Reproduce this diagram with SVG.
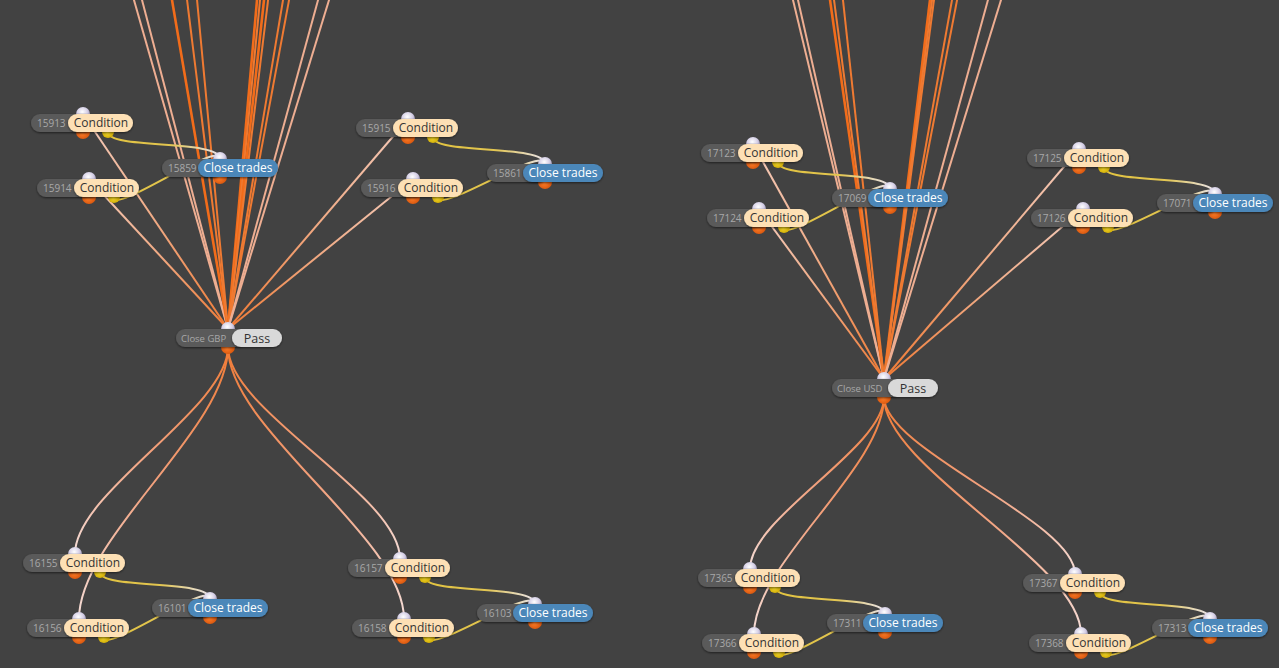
<svg xmlns="http://www.w3.org/2000/svg" width="1279" height="668" viewBox="0 0 1279 668">
<defs>
<style>
.idp{fill:#5a5a5a;filter:url(#sh)}
.cond{fill:#fde0b5;filter:url(#sh)}
.ct{fill:#4b87b9;filter:url(#sh)}
.pass{fill:#d9d9d9;filter:url(#sh)}
.tid{font-family:"Open Sans","Liberation Sans",sans-serif;font-size:10px;fill:#a8a8a8}
.tl{font-family:"Open Sans","Liberation Sans",sans-serif;font-size:12px;text-anchor:middle}
.tc{fill:#333333}
.tw{fill:#ffffff}
.pl{fill:url(#gLav)}
.po{fill:url(#gOr)}
.py{fill:url(#gYe)}
.lk{fill:none;stroke-width:2}
.ly{stroke:url(#gY)}
.lu{stroke:url(#gUp)}
.ld{stroke:url(#gDn)}
.op{stroke:#ef7a32}
.ob{stroke:#f26c1a;stroke-width:2.6}
.pa{stroke:#eeae92}
</style>
<filter id="sh" x="-20%" y="-40%" width="140%" height="190%"><feDropShadow dx="0" dy="1" stdDeviation="1.2" flood-color="#000" flood-opacity="0.55"/></filter>
<radialGradient id="gLav" cx="0.45" cy="0.35" r="0.6"><stop offset="0" stop-color="#ffffff"/><stop offset="0.6" stop-color="#d6d0e6"/><stop offset="1" stop-color="#9e96b8"/></radialGradient>
<radialGradient id="gOr" cx="0.45" cy="0.55" r="0.6"><stop offset="0" stop-color="#ff7f2a"/><stop offset="1" stop-color="#d14f08"/></radialGradient>
<radialGradient id="gYe" cx="0.45" cy="0.55" r="0.6"><stop offset="0" stop-color="#f4d82a"/><stop offset="1" stop-color="#c9a400"/></radialGradient>
<linearGradient id="gY" x1="0" y1="0" x2="1" y2="0"><stop offset="0" stop-color="#e2c340"/><stop offset="0.55" stop-color="#e2c550"/><stop offset="1" stop-color="#e9e3ea"/></linearGradient>
<linearGradient id="gUp" x1="0" y1="0" x2="0" y2="1"><stop offset="0" stop-color="#f3cbbb"/><stop offset="0.5" stop-color="#f0aa84"/><stop offset="1" stop-color="#f07a34"/></linearGradient>
<linearGradient id="gDn" x1="0" y1="0" x2="0" y2="1"><stop offset="0" stop-color="#f07a34"/><stop offset="0.5" stop-color="#f2a07c"/><stop offset="1" stop-color="#f4ddd8"/></linearGradient>
</defs>
<rect x="0" y="0" width="1279" height="668" fill="#424242"/>

<g id="connectors">
<!-- GBP off-top -->
<path class="lk pa" d="M228,329 L131.1,-10"/>
<path class="lk pa" d="M228,329 L139.4,-10"/>
<path class="lk ob" d="M228,329 L170.3,-10"/>
<path class="lk op" d="M228,329 L185.8,-10"/>
<path class="lk op" d="M228,329 L196.1,-10"/>
<path class="lk ob" d="M228,329 L257.9,-10"/>
<path class="lk op" d="M228,329 L261,-10"/>
<path class="lk ob" d="M228,329 L265.1,-10"/>
<path class="lk op" d="M228,329 L269.3,-10"/>
<path class="lk op" d="M228,329 L284.7,-10"/>
<path class="lk op" d="M228,329 L290.9,-10"/>
<path class="lk pa" d="M228,329 L320.8,-10"/>
<path class="lk pa" d="M228,329 L332.1,-10"/>
<!-- USD off-top -->
<path class="lk pa" d="M884,379 L790.6,-10"/>
<path class="lk pa" d="M884,379 L795.7,-10"/>
<path class="lk ob" d="M884,379 L828.6,-10"/>
<path class="lk op" d="M884,379 L832.7,-10"/>
<path class="lk op" d="M884,379 L841.9,-10"/>
<path class="lk ob" d="M884,379 L931.2,-10"/>
<path class="lk op" d="M884,379 L933.3,-10"/>
<path class="lk op" d="M884,379 L935.3,-10"/>
<path class="lk op" d="M884,379 L953.8,-10"/>
<path class="lk op" d="M884,379 L959,-10"/>
<path class="lk pa" d="M884,379 L990.7,-10"/>
<path class="lk pa" d="M884,379 L1004.1,-10"/>
<!-- Pass to upper conditions -->
<path class="lk lu" d="M228,329 L83,114"/>
<path class="lk lu" d="M228,329 L89,179"/>
<path class="lk lu" d="M228,329 L408,119"/>
<path class="lk lu" d="M228,329 L413,179"/>
<path class="lk lu" d="M884,379 L753,144"/>
<path class="lk lu" d="M884,379 L759,209"/>
<path class="lk lu" d="M884,379 L1079,149"/>
<path class="lk lu" d="M884,379 L1083,209"/>
<!-- Pass to lower conditions -->
<path class="lk ld" d="M228,347 C228,409 75,492 75,554"/>
<path class="lk ld" d="M228,347 C228,429 79,537 79,619"/>
<path class="lk ld" d="M228,347 C228,411 400,495 400,559"/>
<path class="lk ld" d="M228,347 C228,429 404,537 404,619"/>
<path class="lk ld" d="M884,397 C884,449 750,517 750,569"/>
<path class="lk ld" d="M884,397 C884,468 754,563 754,634"/>
<path class="lk ld" d="M884,397 C884,450 1075,521 1075,574"/>
<path class="lk ld" d="M884,397 C884,468 1081,563 1081,634"/>
<!-- condition to close trades -->
<path class="lk ly" d="M108,132 C108,150 220,139 220,159"/>
<path class="lk ly" d="M114,197 C114,215 220,139 220,159"/>
<path class="lk ly" d="M433,137 C433,155 545,144 545,164"/>
<path class="lk ly" d="M438,197 C438,215 545,144 545,164"/>
<path class="lk ly" d="M100,572 C100,590 210,579 210,599"/>
<path class="lk ly" d="M104,637 C104,655 210,579 210,599"/>
<path class="lk ly" d="M425,577 C425,595 535,584 535,604"/>
<path class="lk ly" d="M429,637 C429,655 535,584 535,604"/>
<path class="lk ly" d="M778,162 C778,180 890,169 890,189"/>
<path class="lk ly" d="M784,227 C784,245 890,169 890,189"/>
<path class="lk ly" d="M1104,167 C1104,185 1215,174 1215,194"/>
<path class="lk ly" d="M1108,227 C1108,245 1215,174 1215,194"/>
<path class="lk ly" d="M775,587 C775,605 885,594 885,614"/>
<path class="lk ly" d="M779,652 C779,670 885,594 885,614"/>
<path class="lk ly" d="M1100,592 C1100,610 1210,599 1210,619"/>
<path class="lk ly" d="M1106,652 C1106,670 1210,599 1210,619"/>
</g>

<!-- Pass nodes -->
<g id="closeGBP" transform="translate(232,329)">
<circle class="pl" cx="-4" cy="0" r="7"/><circle class="po" cx="-4" cy="18" r="7"/>
<rect class="idp" x="-56" y="0" width="70" height="18" rx="9"/>
<rect class="pass" x="0" y="0" width="50" height="18" rx="9"/>
<text class="tid" x="-51" y="12.5" style="font-size:9.5px">Close GBP</text>
<text class="tl tc" x="25" y="13.5" style="font-size:12.5px">Pass</text>
</g>
<g id="closeUSD" transform="translate(888,379)">
<circle class="pl" cx="-4" cy="0" r="7"/><circle class="po" cx="-4" cy="18" r="7"/>
<rect class="idp" x="-56" y="0" width="70" height="18" rx="9"/>
<rect class="pass" x="0" y="0" width="50" height="18" rx="9"/>
<text class="tid" x="-51" y="12.5" style="font-size:9.5px">Close USD</text>
<text class="tl tc" x="25" y="13.5" style="font-size:12.5px">Pass</text>
</g>

<!-- Condition nodes -->
<g id="n15913" transform="translate(68,114)"><circle class="pl" cx="15" cy="0" r="7"/><circle class="po" cx="15" cy="18" r="7"/><circle class="py" cx="40" cy="18" r="6"/><rect class="idp" x="-37" y="0" width="62" height="18" rx="9"/><rect class="cond" x="0" y="0" width="65" height="18" rx="9"/><text class="tid" x="-31" y="12.5">15913</text><text class="tl tc" x="33" y="13">Condition</text></g>
<g id="n15914" transform="translate(74,179)"><circle class="pl" cx="15" cy="0" r="7"/><circle class="po" cx="15" cy="18" r="7"/><circle class="py" cx="40" cy="18" r="6"/><rect class="idp" x="-37" y="0" width="62" height="18" rx="9"/><rect class="cond" x="0" y="0" width="65" height="18" rx="9"/><text class="tid" x="-31" y="12.5">15914</text><text class="tl tc" x="33" y="13">Condition</text></g>
<g id="n15915" transform="translate(393,119)"><circle class="pl" cx="15" cy="0" r="7"/><circle class="po" cx="15" cy="18" r="7"/><circle class="py" cx="40" cy="18" r="6"/><rect class="idp" x="-37" y="0" width="62" height="18" rx="9"/><rect class="cond" x="0" y="0" width="65" height="18" rx="9"/><text class="tid" x="-31" y="12.5">15915</text><text class="tl tc" x="33" y="13">Condition</text></g>
<g id="n15916" transform="translate(398,179)"><circle class="pl" cx="15" cy="0" r="7"/><circle class="po" cx="15" cy="18" r="7"/><circle class="py" cx="40" cy="18" r="6"/><rect class="idp" x="-37" y="0" width="62" height="18" rx="9"/><rect class="cond" x="0" y="0" width="65" height="18" rx="9"/><text class="tid" x="-31" y="12.5">15916</text><text class="tl tc" x="33" y="13">Condition</text></g>
<g id="n16155" transform="translate(60,554)"><circle class="pl" cx="15" cy="0" r="7"/><circle class="po" cx="15" cy="18" r="7"/><circle class="py" cx="40" cy="18" r="6"/><rect class="idp" x="-37" y="0" width="62" height="18" rx="9"/><rect class="cond" x="0" y="0" width="65" height="18" rx="9"/><text class="tid" x="-31" y="12.5">16155</text><text class="tl tc" x="33" y="13">Condition</text></g>
<g id="n16156" transform="translate(64,619)"><circle class="pl" cx="15" cy="0" r="7"/><circle class="po" cx="15" cy="18" r="7"/><circle class="py" cx="40" cy="18" r="6"/><rect class="idp" x="-37" y="0" width="62" height="18" rx="9"/><rect class="cond" x="0" y="0" width="65" height="18" rx="9"/><text class="tid" x="-31" y="12.5">16156</text><text class="tl tc" x="33" y="13">Condition</text></g>
<g id="n16157" transform="translate(385,559)"><circle class="pl" cx="15" cy="0" r="7"/><circle class="po" cx="15" cy="18" r="7"/><circle class="py" cx="40" cy="18" r="6"/><rect class="idp" x="-37" y="0" width="62" height="18" rx="9"/><rect class="cond" x="0" y="0" width="65" height="18" rx="9"/><text class="tid" x="-31" y="12.5">16157</text><text class="tl tc" x="33" y="13">Condition</text></g>
<g id="n16158" transform="translate(389,619)"><circle class="pl" cx="15" cy="0" r="7"/><circle class="po" cx="15" cy="18" r="7"/><circle class="py" cx="40" cy="18" r="6"/><rect class="idp" x="-37" y="0" width="62" height="18" rx="9"/><rect class="cond" x="0" y="0" width="65" height="18" rx="9"/><text class="tid" x="-31" y="12.5">16158</text><text class="tl tc" x="33" y="13">Condition</text></g>
<g id="n17123" transform="translate(738,144)"><circle class="pl" cx="15" cy="0" r="7"/><circle class="po" cx="15" cy="18" r="7"/><circle class="py" cx="40" cy="18" r="6"/><rect class="idp" x="-37" y="0" width="62" height="18" rx="9"/><rect class="cond" x="0" y="0" width="65" height="18" rx="9"/><text class="tid" x="-31" y="12.5">17123</text><text class="tl tc" x="33" y="13">Condition</text></g>
<g id="n17124" transform="translate(744,209)"><circle class="pl" cx="15" cy="0" r="7"/><circle class="po" cx="15" cy="18" r="7"/><circle class="py" cx="40" cy="18" r="6"/><rect class="idp" x="-37" y="0" width="62" height="18" rx="9"/><rect class="cond" x="0" y="0" width="65" height="18" rx="9"/><text class="tid" x="-31" y="12.5">17124</text><text class="tl tc" x="33" y="13">Condition</text></g>
<g id="n17125" transform="translate(1064,149)"><circle class="pl" cx="15" cy="0" r="7"/><circle class="po" cx="15" cy="18" r="7"/><circle class="py" cx="40" cy="18" r="6"/><rect class="idp" x="-37" y="0" width="62" height="18" rx="9"/><rect class="cond" x="0" y="0" width="65" height="18" rx="9"/><text class="tid" x="-31" y="12.5">17125</text><text class="tl tc" x="33" y="13">Condition</text></g>
<g id="n17126" transform="translate(1068,209)"><circle class="pl" cx="15" cy="0" r="7"/><circle class="po" cx="15" cy="18" r="7"/><circle class="py" cx="40" cy="18" r="6"/><rect class="idp" x="-37" y="0" width="62" height="18" rx="9"/><rect class="cond" x="0" y="0" width="65" height="18" rx="9"/><text class="tid" x="-31" y="12.5">17126</text><text class="tl tc" x="33" y="13">Condition</text></g>
<g id="n17365" transform="translate(735,569)"><circle class="pl" cx="15" cy="0" r="7"/><circle class="po" cx="15" cy="18" r="7"/><circle class="py" cx="40" cy="18" r="6"/><rect class="idp" x="-37" y="0" width="62" height="18" rx="9"/><rect class="cond" x="0" y="0" width="65" height="18" rx="9"/><text class="tid" x="-31" y="12.5">17365</text><text class="tl tc" x="33" y="13">Condition</text></g>
<g id="n17366" transform="translate(739,634)"><circle class="pl" cx="15" cy="0" r="7"/><circle class="po" cx="15" cy="18" r="7"/><circle class="py" cx="40" cy="18" r="6"/><rect class="idp" x="-37" y="0" width="62" height="18" rx="9"/><rect class="cond" x="0" y="0" width="65" height="18" rx="9"/><text class="tid" x="-31" y="12.5">17366</text><text class="tl tc" x="33" y="13">Condition</text></g>
<g id="n17367" transform="translate(1060,574)"><circle class="pl" cx="15" cy="0" r="7"/><circle class="po" cx="15" cy="18" r="7"/><circle class="py" cx="40" cy="18" r="6"/><rect class="idp" x="-37" y="0" width="62" height="18" rx="9"/><rect class="cond" x="0" y="0" width="65" height="18" rx="9"/><text class="tid" x="-31" y="12.5">17367</text><text class="tl tc" x="33" y="13">Condition</text></g>
<g id="n17368" transform="translate(1066,634)"><circle class="pl" cx="15" cy="0" r="7"/><circle class="po" cx="15" cy="18" r="7"/><circle class="py" cx="40" cy="18" r="6"/><rect class="idp" x="-37" y="0" width="62" height="18" rx="9"/><rect class="cond" x="0" y="0" width="65" height="18" rx="9"/><text class="tid" x="-31" y="12.5">17368</text><text class="tl tc" x="33" y="13">Condition</text></g>

<!-- Close trades nodes -->
<g id="n15859" transform="translate(198,159)"><circle class="pl" cx="22" cy="0" r="7"/><circle class="po" cx="22" cy="18" r="7"/><rect class="idp" x="-36" y="0" width="60" height="18" rx="9"/><rect class="ct" x="0" y="0" width="80" height="18" rx="9"/><text class="tid" x="-30" y="12.5">15859</text><text class="tl tw" x="40" y="13">Close trades</text></g>
<g id="n15861" transform="translate(523,164)"><circle class="pl" cx="22" cy="0" r="7"/><circle class="po" cx="22" cy="18" r="7"/><rect class="idp" x="-36" y="0" width="60" height="18" rx="9"/><rect class="ct" x="0" y="0" width="80" height="18" rx="9"/><text class="tid" x="-30" y="12.5">15861</text><text class="tl tw" x="40" y="13">Close trades</text></g>
<g id="n16101" transform="translate(188,599)"><circle class="pl" cx="22" cy="0" r="7"/><circle class="po" cx="22" cy="18" r="7"/><rect class="idp" x="-36" y="0" width="60" height="18" rx="9"/><rect class="ct" x="0" y="0" width="80" height="18" rx="9"/><text class="tid" x="-30" y="12.5">16101</text><text class="tl tw" x="40" y="13">Close trades</text></g>
<g id="n16103" transform="translate(513,604)"><circle class="pl" cx="22" cy="0" r="7"/><circle class="po" cx="22" cy="18" r="7"/><rect class="idp" x="-36" y="0" width="60" height="18" rx="9"/><rect class="ct" x="0" y="0" width="80" height="18" rx="9"/><text class="tid" x="-30" y="12.5">16103</text><text class="tl tw" x="40" y="13">Close trades</text></g>
<g id="n17069" transform="translate(868,189)"><circle class="pl" cx="22" cy="0" r="7"/><circle class="po" cx="22" cy="18" r="7"/><rect class="idp" x="-36" y="0" width="60" height="18" rx="9"/><rect class="ct" x="0" y="0" width="80" height="18" rx="9"/><text class="tid" x="-30" y="12.5">17069</text><text class="tl tw" x="40" y="13">Close trades</text></g>
<g id="n17071" transform="translate(1193,194)"><circle class="pl" cx="22" cy="0" r="7"/><circle class="po" cx="22" cy="18" r="7"/><rect class="idp" x="-36" y="0" width="60" height="18" rx="9"/><rect class="ct" x="0" y="0" width="80" height="18" rx="9"/><text class="tid" x="-30" y="12.5">17071</text><text class="tl tw" x="40" y="13">Close trades</text></g>
<g id="n17311" transform="translate(863,614)"><circle class="pl" cx="22" cy="0" r="7"/><circle class="po" cx="22" cy="18" r="7"/><rect class="idp" x="-36" y="0" width="60" height="18" rx="9"/><rect class="ct" x="0" y="0" width="80" height="18" rx="9"/><text class="tid" x="-30" y="12.5">17311</text><text class="tl tw" x="40" y="13">Close trades</text></g>
<g id="n17313" transform="translate(1188,619)"><circle class="pl" cx="22" cy="0" r="7"/><circle class="po" cx="22" cy="18" r="7"/><rect class="idp" x="-36" y="0" width="60" height="18" rx="9"/><rect class="ct" x="0" y="0" width="80" height="18" rx="9"/><text class="tid" x="-30" y="12.5">17313</text><text class="tl tw" x="40" y="13">Close trades</text></g>
</svg>
